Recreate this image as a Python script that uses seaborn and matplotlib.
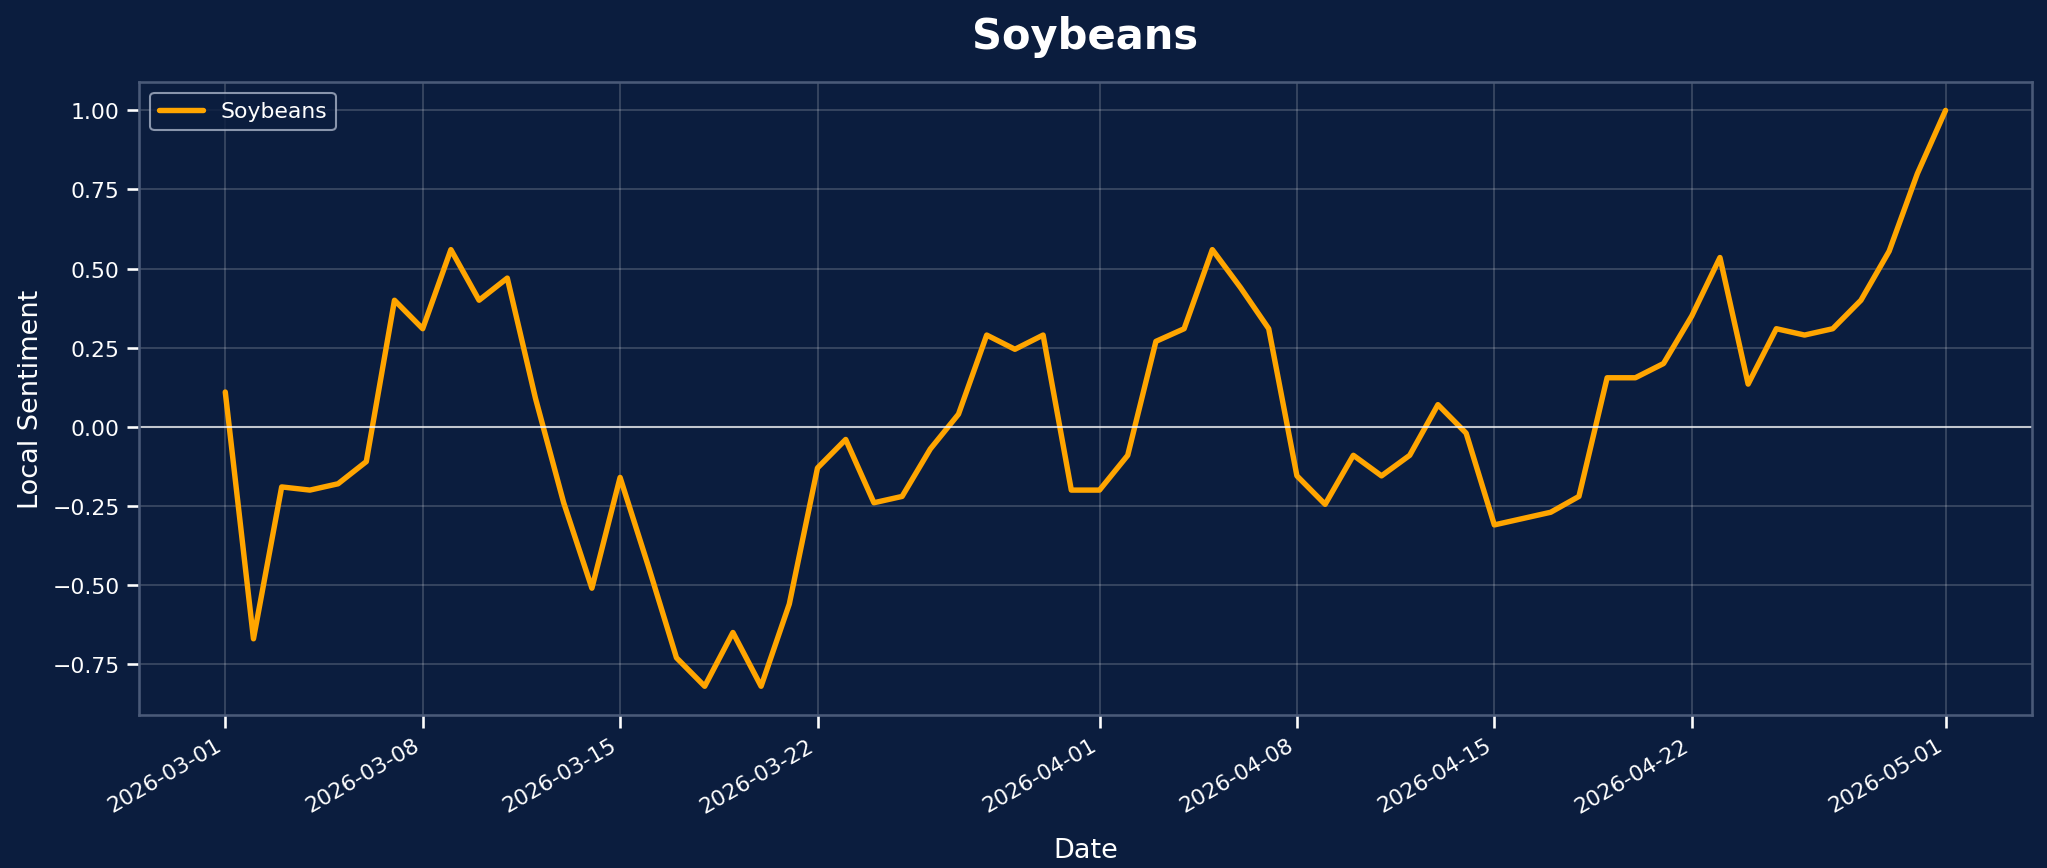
import pandas as pd
import numpy as np
import matplotlib
matplotlib.use("Agg")
import matplotlib.pyplot as plt
import seaborn as sns

dates = pd.date_range("2026-03-01", "2026-05-01", freq="D")
sentiment = [0.11, -0.67, -0.19, -0.20, -0.18, -0.11, 0.40, 0.31, 0.56, 0.40,
             0.47, 0.09, -0.24, -0.51, -0.16, -0.44, -0.73, -0.82, -0.65, -0.82,
             -0.56, -0.13, -0.04, -0.24, -0.22, -0.07, 0.04, 0.29, 0.245, 0.29,
             -0.20, -0.20, -0.09, 0.27, 0.31, 0.56, 0.44, 0.31, -0.155, -0.245,
             -0.09, -0.155, -0.09, 0.07, -0.02, -0.31, -0.29, -0.27, -0.22, 0.155,
             0.155, 0.20, 0.35, 0.535, 0.135, 0.31, 0.29, 0.31, 0.40, 0.555,
             0.80, 1.00]
df = pd.DataFrame({"Date": dates, "Local Sentiment": sentiment})

bg = "#0b1d3e"
sns.set_theme(style="dark")
plt.rcParams['font.family'] = ['DejaVu Sans']

fig, ax = plt.subplots(figsize=(13.653, 5.793), dpi=150)
fig.patch.set_facecolor(bg)
ax.set_facecolor(bg)
fig.subplots_adjust(left=0.068, right=0.992, top=0.905, bottom=0.176)

sns.lineplot(data=df, x="Date", y="Local Sentiment", ax=ax, color="#FFA500",
             linewidth=2.6, label="Soybeans")
ax.axhline(0, color="white", alpha=0.7, linewidth=1)

ax.grid(True, color="white", alpha=0.2, linewidth=0.8)
for s in ax.spines.values():
    s.set_color("#4a5a78")
ax.tick_params(colors="white", labelsize=10.5, bottom=True, left=True)
ax.set_title("Soybeans", color="white", fontsize=20, fontweight="bold", pad=16)
ax.set_xlabel("Date", color="white", fontsize=13, labelpad=10)
ax.set_ylabel("Local Sentiment", color="white", fontsize=13)
ax.set_yticks(np.arange(-0.75, 1.01, 0.25))

ticks = pd.to_datetime(["2026-03-01", "2026-03-08", "2026-03-15", "2026-03-22",
                        "2026-04-01", "2026-04-08", "2026-04-15", "2026-04-22",
                        "2026-05-01"])
ax.set_xticks(ticks)
ax.set_xticklabels([t.strftime("%Y-%m-%d") for t in ticks], rotation=30, ha="right")

leg = ax.legend(loc="upper left", facecolor=bg, edgecolor="#aab4c8", fontsize=10.5)
for t in leg.get_texts():
    t.set_color("white")

fig.savefig("out.png", facecolor=bg)
